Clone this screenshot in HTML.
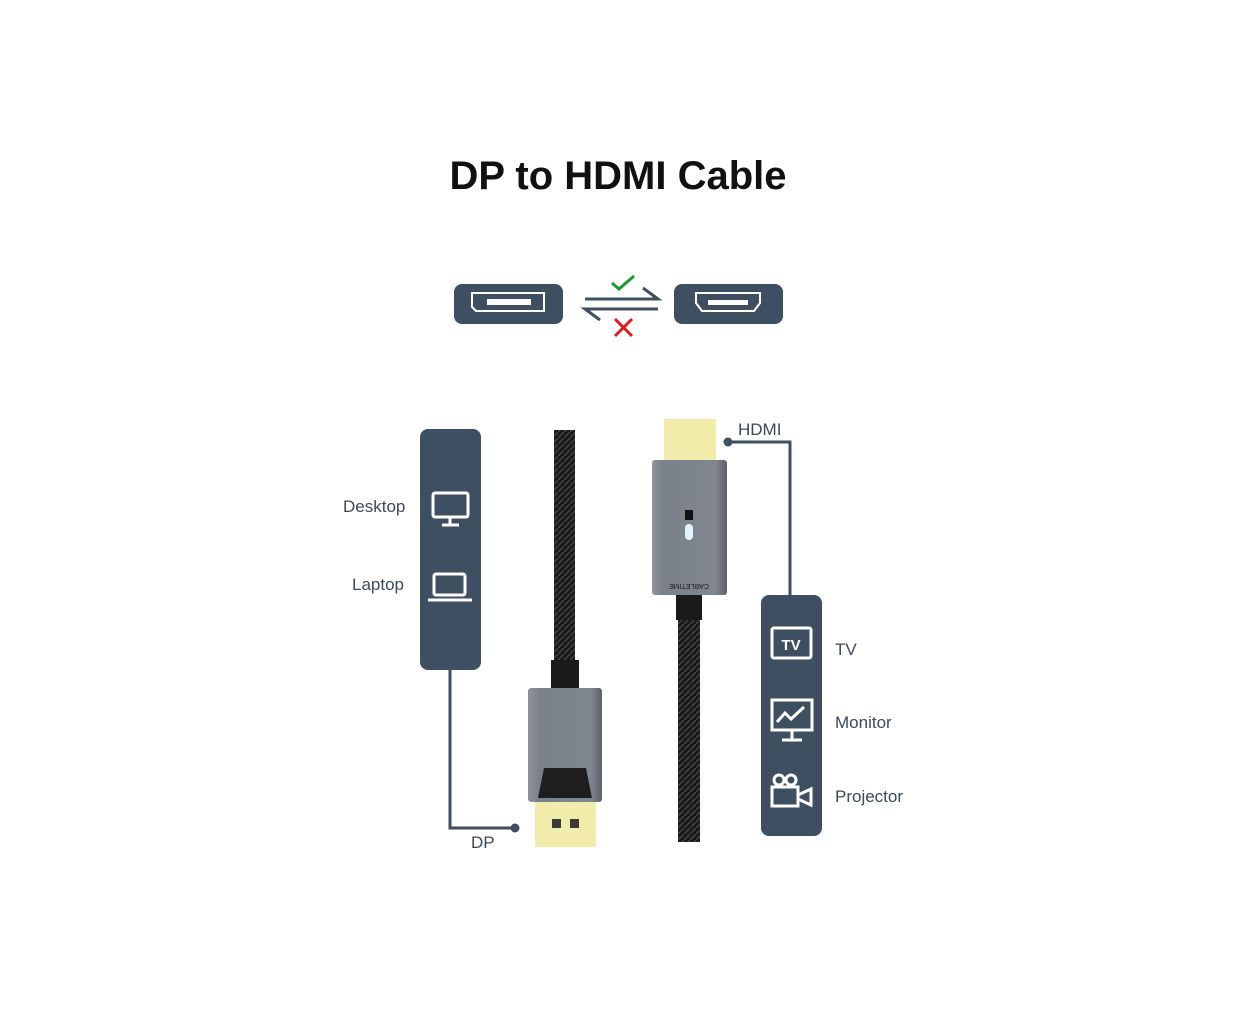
<!DOCTYPE html>
<html><head><meta charset="utf-8"><style>
body{margin:0;background:#fff;width:1252px;height:1024px;overflow:hidden;position:relative;font-family:"Liberation Sans",sans-serif}
.t{position:absolute;color:#3d4a57;font-size:17px}
</style></head><body>
<div style="position:absolute;left:0;width:1236px;top:154px;text-align:center;font-size:40px;font-weight:bold;color:#111">DP to HDMI Cable</div>
<svg width="1252" height="1024" style="position:absolute;left:0;top:0">
<defs>
<linearGradient id="g" x1="0" x2="1"><stop offset="0" stop-color="#8e939b"/><stop offset=".15" stop-color="#7b818a"/><stop offset=".85" stop-color="#80868e"/><stop offset="1" stop-color="#5c6068"/></linearGradient>
<pattern id="br" width="6" height="6" patternUnits="userSpaceOnUse"><rect width="6" height="6" fill="#1a1a1a"/><path d="M0 6L6 0" stroke="#444" stroke-width="1.5"/></pattern>
</defs>
<!-- top icons -->
<rect x="454" y="284" width="109" height="40" rx="8" fill="#3d4f60"/>
<path d="M472 293h72v18h-68l-4-4z" fill="none" stroke="#fff" stroke-width="2"/>
<rect x="487" y="299" width="44" height="6" fill="#fff"/>
<rect x="674" y="284" width="109" height="40" rx="8" fill="#3d4f60"/>
<path d="M696 293h64v10l-6 8h-52l-6-8z" fill="none" stroke="#fff" stroke-width="2"/>
<rect x="708" y="300" width="40" height="5" fill="#fff"/>
<path d="M585 299h73l-15-11" fill="none" stroke="#3d4f60" stroke-width="3"/>
<path d="M658 309h-73l15 11" fill="none" stroke="#3d4f60" stroke-width="3"/>
<path d="M612 283l7 6 15-13" fill="none" stroke="#1d9b2a" stroke-width="3"/>
<path d="M615 319l17 17M632 319l-17 17" stroke="#e01b1b" stroke-width="3"/>
<!-- left panel -->
<rect x="420" y="429" width="61" height="241" rx="8" fill="#3d4f60"/>
<path d="M450 670V828H512" fill="none" stroke="#3d4f60" stroke-width="3"/>
<circle cx="515" cy="828" r="4.5" fill="#3d4f60"/>
<rect x="433" y="493" width="35" height="24" rx="2" fill="none" stroke="#fff" stroke-width="3"/>
<path d="M450 518v6M442 525h17" stroke="#fff" stroke-width="3"/>
<rect x="434" y="574" width="31" height="21" rx="2" fill="none" stroke="#fff" stroke-width="3"/>
<path d="M428 600h44" stroke="#fff" stroke-width="3"/>
<!-- right panel -->
<rect x="761" y="595" width="61" height="241" rx="8" fill="#3d4f60"/>
<path d="M728 442H790V595" fill="none" stroke="#3d4f60" stroke-width="3"/>
<circle cx="728" cy="442" r="4.5" fill="#3d4f60"/>
<rect x="772" y="628" width="39" height="30" rx="2" fill="none" stroke="#fff" stroke-width="3"/>
<text x="791" y="650" fill="#fff" font-size="15" font-weight="bold" text-anchor="middle" font-family="Liberation Sans">TV</text>
<rect x="772" y="700" width="40" height="30" fill="none" stroke="#fff" stroke-width="3"/>
<path d="M777 722l8-9 6 6 13-12M792 731v9M782 740h20" fill="none" stroke="#fff" stroke-width="3"/>
<rect x="772" y="787" width="26" height="19" fill="none" stroke="#fff" stroke-width="3"/>
<circle cx="779" cy="780" r="5" fill="none" stroke="#fff" stroke-width="3"/><circle cx="791" cy="780" r="5" fill="none" stroke="#fff" stroke-width="3"/>
<path d="M798 795l13-6v16l-13-6" fill="none" stroke="#fff" stroke-width="3"/>
<!-- DP cable -->
<rect x="554" y="430" width="21" height="232" fill="url(#br)"/>
<rect x="551" y="660" width="28" height="30" fill="#1b1b1b"/>
<rect x="535" y="800" width="61" height="47" fill="#f1ecaa"/>
<rect x="552" y="819" width="9" height="9" fill="#3a3a3a"/><rect x="570" y="819" width="9" height="9" fill="#3a3a3a"/>
<rect x="528" y="688" width="74" height="114" rx="3" fill="url(#g)"/>
<path d="M544 768h42l6 30h-54z" fill="#1e1e1e"/>
<!-- HDMI cable -->
<rect x="664" y="419" width="52" height="43" fill="#f1ecaa"/>
<rect x="678" y="618" width="22" height="224" fill="url(#br)"/>
<rect x="676" y="594" width="26" height="26" fill="#1b1b1b"/>
<rect x="652" y="460" width="75" height="135" rx="3" fill="url(#g)"/>
<rect x="685" y="510" width="8" height="10" fill="#111"/>
<rect x="685" y="524" width="8" height="16" rx="4" fill="#dff4ff"/>
<text x="689" y="588" fill="#222" font-size="7" text-anchor="middle" font-family="Liberation Sans" transform="rotate(180 689 586)">CABLETIME</text>
</svg>
<div class="t" style="left:343px;top:497px">Desktop</div>
<div class="t" style="left:352px;top:575px">Laptop</div>
<div class="t" style="left:471px;top:833px">DP</div>
<div class="t" style="left:738px;top:420px">HDMI</div>
<div class="t" style="left:835px;top:640px">TV</div>
<div class="t" style="left:835px;top:713px">Monitor</div>
<div class="t" style="left:835px;top:787px">Projector</div>
</body></html>
